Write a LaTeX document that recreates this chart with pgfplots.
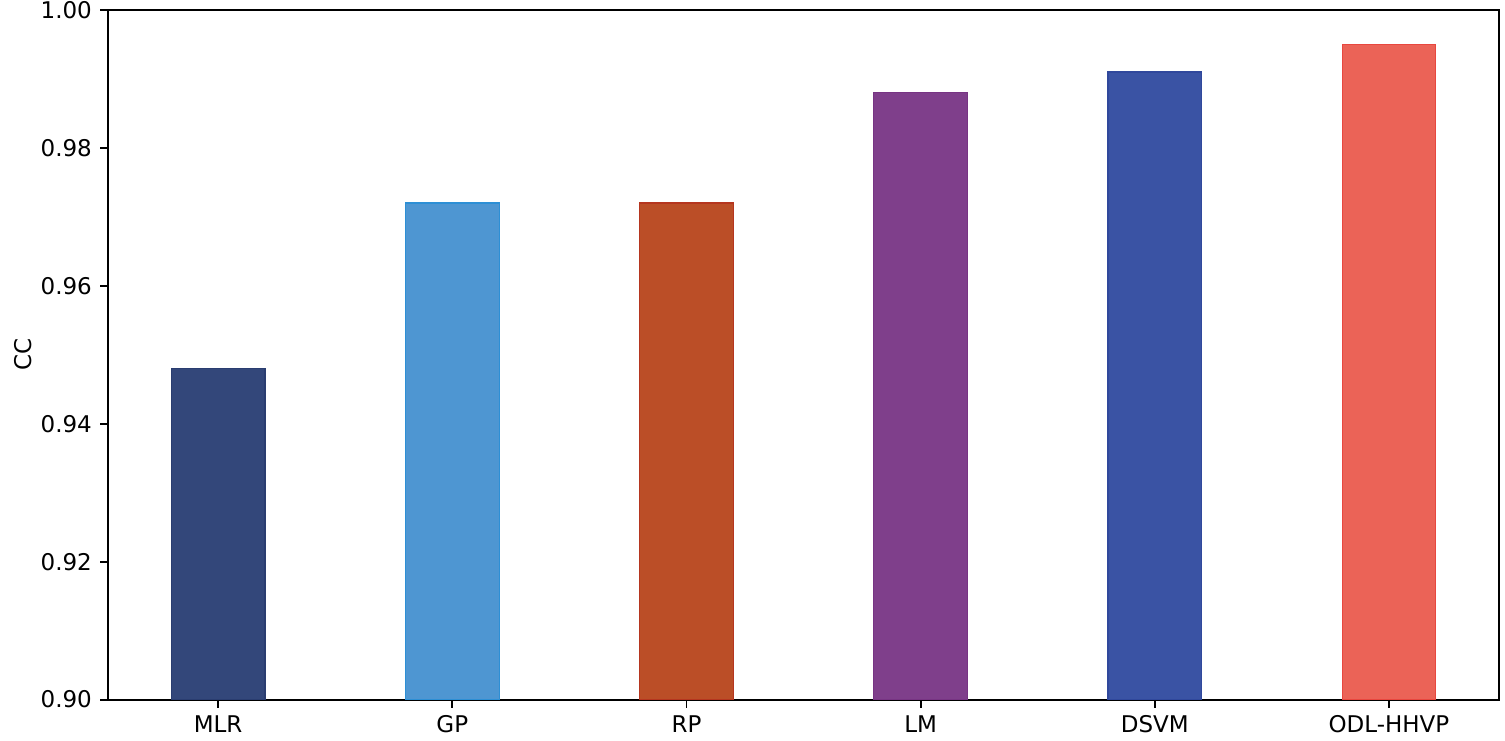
\documentclass[border=0pt]{standalone}
\usepackage{pgfplots}
\pgfplotsset{compat=1.18}
\usepackage{fontspec}
\setmainfont{DejaVu Sans}
\definecolor{cMLR}{HTML}{33477A}
\definecolor{eMLR}{HTML}{2A3D70}
\definecolor{cGP}{HTML}{4E96D2}
\definecolor{eGP}{HTML}{2D8FD5}
\definecolor{cRP}{HTML}{BB4E27}
\definecolor{eRP}{HTML}{B5361F}
\definecolor{cLM}{HTML}{7F3F8B}
\definecolor{eLM}{HTML}{773483}
\definecolor{cDS}{HTML}{3A53A4}
\definecolor{eDS}{HTML}{30489C}
\definecolor{cOD}{HTML}{EB6357}
\definecolor{eOD}{HTML}{E8473F}
\begin{document}
\begin{tikzpicture}
\begin{axis}[
  scale only axis,
  width=605pt, height=300pt,
  xmin=-0.47, xmax=5.47,
  ymin=0.90, ymax=1.00,
  ybar, bar width=0.4, bar shift=0pt,
  xtick={0,1,2,3,4,5},
  xticklabels={MLR,GP,RP,LM,DSVM,ODL-HHVP},
  ytick={0.90,0.92,0.94,0.96,0.98,1.00},
  yticklabel style={/pgf/number format/.cd,fixed,fixed zerofill,precision=2},
  /pgf/number format/assume math mode=true,
  tick align=outside, tick pos=left,
  major tick length=3.5pt,
  axis line style={line width=0.8pt},
  every tick/.style={black, line width=0.8pt},
  tick label style={font=\fontsize{10}{12}\selectfont},
  ylabel={CC},
  ylabel style={font=\fontsize{10}{12}\selectfont},
  ylabel shift=-3pt,
  clip=true,
]
\addplot[fill=cMLR, draw=eMLR, line width=0.5pt] coordinates {(0,0.948)};
\addplot[fill=cGP, draw=eGP, line width=0.5pt] coordinates {(1,0.972)};
\addplot[fill=cRP, draw=eRP, line width=0.5pt] coordinates {(2,0.972)};
\addplot[fill=cLM, draw=eLM, line width=0.5pt] coordinates {(3,0.988)};
\addplot[fill=cDS, draw=eDS, line width=0.5pt] coordinates {(4,0.991)};
\addplot[fill=cOD, draw=eOD, line width=0.5pt] coordinates {(5,0.995)};
\end{axis}
\pgfresetboundingbox
\useasboundingbox (current axis.south west) ++(-47pt,-17.8pt) rectangle ([shift={(2.6pt,4.3pt)}]current axis.north east);
\end{tikzpicture}
\end{document}
